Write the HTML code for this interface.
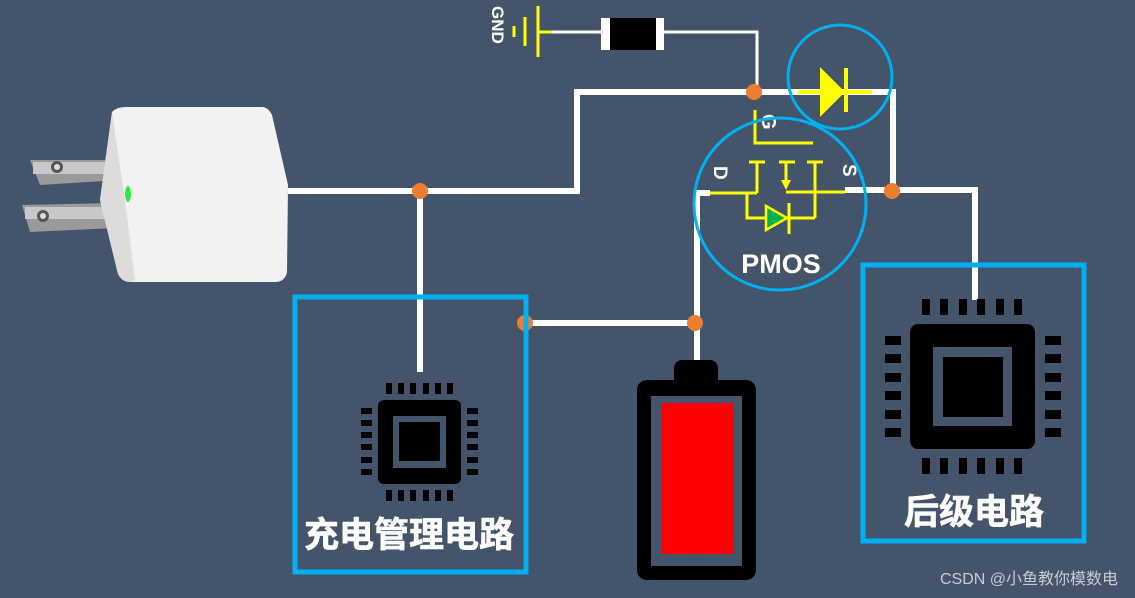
<!DOCTYPE html>
<html><head><meta charset="utf-8"><style>
html,body{margin:0;padding:0;background:#44546a;}
svg{display:block;}
text{font-family:"Liberation Sans","Noto Sans CJK SC",sans-serif;}
</style></head><body>
<svg width="1135" height="598" viewBox="0 0 1135 598" xmlns="http://www.w3.org/2000/svg">
<rect width="1135" height="598" fill="#44546a"/>
<g stroke="#fff" stroke-width="6" fill="none">
<polyline points="288,191 577,191 577,92 872,92"/>
<polyline points="872,92 893,92 893,190 975,190 975,300"/>
<line x1="845" y1="190" x2="893" y2="190"/>
<line x1="420" y1="191" x2="420" y2="372"/>
<polyline points="710,193 697,193 697,362"/>
<line x1="524" y1="323" x2="697" y2="323"/>
</g>
<polyline points="552,32 757,32 757,92" stroke="#fff" stroke-width="3" fill="none"/>
<rect x="601" y="18" width="63" height="32" fill="#fff"/>
<rect x="610" y="18" width="46" height="32" fill="#000"/>
<g stroke="#ffff00" stroke-width="3">
<line x1="538" y1="6" x2="538" y2="57"/>
<line x1="538" y1="32" x2="552" y2="32"/>
<line x1="525" y1="17" x2="525" y2="46"/>
<line x1="514" y1="26" x2="514" y2="37"/>
</g>
<text transform="translate(492,6) rotate(90)" font-size="17" font-weight="bold" fill="#fff">GND</text>
<g stroke="#ffff00" stroke-width="4">
<line x1="798" y1="92" x2="872" y2="92"/>
<line x1="846" y1="68" x2="846" y2="112"/>
</g>
<polygon points="820,67 845,92 820,117" fill="#ffff00"/>
<circle cx="840" cy="77" r="52" fill="none" stroke="#00b0f0" stroke-width="3"/>
<polyline points="755,110 755,143 813,143" stroke="#ffff00" stroke-width="3" fill="none"/>
<text transform="translate(762,114) rotate(90)" font-size="20" font-weight="bold" fill="#fff">G</text>
<g stroke="#ffff00" stroke-width="3" fill="none">
<line x1="710" y1="193" x2="757" y2="193"/>
<line x1="757" y1="162" x2="757" y2="193"/>
<line x1="749" y1="162" x2="765" y2="162"/>
<line x1="779" y1="162" x2="795" y2="162"/>
<line x1="807" y1="162" x2="823" y2="162"/>
<line x1="786" y1="162" x2="786" y2="182"/>
<line x1="815" y1="162" x2="815" y2="218"/>
<line x1="786" y1="192" x2="845" y2="192"/>
<polyline points="747,193 747,218 815,218"/>
<line x1="789" y1="203" x2="789" y2="234"/>
</g>
<polygon points="781,180 791,180 786,190" fill="#ffff00"/>
<polygon points="766,206 787,218 766,230" fill="#00b050" stroke="#ffff00" stroke-width="2.5"/>
<text transform="translate(714,166) rotate(90)" font-size="19" font-weight="bold" fill="#fff">D</text>
<text transform="translate(843,164) rotate(90)" font-size="19" font-weight="bold" fill="#fff">S</text>
<circle cx="780" cy="204" r="86" fill="none" stroke="#00b0f0" stroke-width="3"/>
<text x="781" y="273" text-anchor="middle" font-size="27" font-weight="bold" fill="#fff">PMOS</text>
<g fill="#ed7d31">
<circle cx="420" cy="191" r="8"/><circle cx="754" cy="92" r="8"/><circle cx="892" cy="191" r="8"/>
<circle cx="525" cy="323" r="8"/><circle cx="695" cy="323" r="8"/>
</g>
<rect x="295" y="297" width="231" height="275" fill="none" stroke="#00b0f0" stroke-width="5"/>
<rect x="863" y="265" width="221" height="276" fill="none" stroke="#00b0f0" stroke-width="5"/>
<rect x="378" y="400" width="83" height="84" rx="6" fill="#000"/>
<rect x="393" y="416" width="53" height="52" fill="#44546a"/>
<rect x="399" y="422" width="41" height="39" fill="#000"/>
<g fill="#000">
<rect x="386" y="383" width="6" height="11"/><rect x="398" y="383" width="6" height="11"/><rect x="410" y="383" width="6" height="11"/><rect x="423" y="383" width="6" height="11"/><rect x="435" y="383" width="6" height="11"/><rect x="447" y="383" width="6" height="11"/>
<rect x="386" y="490" width="6" height="11"/><rect x="398" y="490" width="6" height="11"/><rect x="410" y="490" width="6" height="11"/><rect x="423" y="490" width="6" height="11"/><rect x="435" y="490" width="6" height="11"/><rect x="447" y="490" width="6" height="11"/>
<rect x="361" y="408" width="11" height="6"/><rect x="361" y="420" width="11" height="6"/><rect x="361" y="432" width="11" height="6"/><rect x="361" y="444" width="11" height="6"/><rect x="361" y="457" width="11" height="6"/><rect x="361" y="469" width="11" height="6"/>
<rect x="467" y="408" width="11" height="6"/><rect x="467" y="420" width="11" height="6"/><rect x="467" y="432" width="11" height="6"/><rect x="467" y="444" width="11" height="6"/><rect x="467" y="457" width="11" height="6"/><rect x="467" y="469" width="11" height="6"/>
</g>
<text x="409" y="547" text-anchor="middle" font-size="35" font-weight="bold" fill="#fff" stroke="#fff" stroke-width="0.6">充电管理电路</text>
<rect x="910" y="324" width="125" height="125" rx="8" fill="#000"/>
<rect x="933" y="347" width="79" height="79" fill="#44546a"/>
<rect x="943" y="357" width="60" height="60" fill="#000"/>
<g fill="#000">
<rect x="922" y="299" width="8" height="16"/><rect x="940" y="299" width="8" height="16"/><rect x="959" y="299" width="8" height="16"/><rect x="977" y="299" width="8" height="16"/><rect x="996" y="299" width="8" height="16"/><rect x="1014" y="299" width="8" height="16"/>
<rect x="922" y="458" width="8" height="16"/><rect x="940" y="458" width="8" height="16"/><rect x="959" y="458" width="8" height="16"/><rect x="977" y="458" width="8" height="16"/><rect x="996" y="458" width="8" height="16"/><rect x="1014" y="458" width="8" height="16"/>
<rect x="885" y="336" width="16" height="9"/><rect x="885" y="354" width="16" height="9"/><rect x="885" y="373" width="16" height="9"/><rect x="885" y="391" width="16" height="9"/><rect x="885" y="410" width="16" height="9"/><rect x="885" y="428" width="16" height="9"/>
<rect x="1045" y="336" width="16" height="9"/><rect x="1045" y="354" width="16" height="9"/><rect x="1045" y="373" width="16" height="9"/><rect x="1045" y="391" width="16" height="9"/><rect x="1045" y="410" width="16" height="9"/><rect x="1045" y="428" width="16" height="9"/>
</g>
<text x="974" y="524" text-anchor="middle" font-size="35" font-weight="bold" fill="#fff" stroke="#fff" stroke-width="0.6">后级电路</text>
<rect x="674" y="360" width="44" height="28" rx="8" fill="#000"/>
<rect x="637" y="380" width="119" height="200" rx="10" fill="#000"/>
<rect x="651" y="396" width="91" height="170" fill="#44546a"/>
<rect x="661" y="403" width="73" height="151" fill="#ff0000"/>
<g>
<path d="M30,160 L120,160 L120,180 L40,185 Z" fill="#9a9a9a"/>
<path d="M22,205 L115,203 L115,228 L30,232 Z" fill="#9a9a9a"/>
<rect x="33" y="162" width="85" height="12" fill="#c8c8c8"/>
<rect x="25" y="207" width="85" height="12" fill="#c8c8c8"/>
<circle cx="57" cy="167" r="6" fill="#555"/><circle cx="57" cy="167" r="3" fill="#ddd"/>
<circle cx="43" cy="216" r="6" fill="#555"/><circle cx="43" cy="216" r="3" fill="#ddd"/>
<path d="M112,112 Q117,107 125,107 L262,107 Q268,107 272,115 L288,185 L287,272 Q285,282 275,282 L130,282 Q122,282 118,274 L100,200 Z" fill="#f2f2f2"/>
<path d="M112,112 L100,200 L118,274 Q122,282 130,282 L135,280 L125,200 Z" fill="#dcdcdc"/>
<ellipse cx="128" cy="194" rx="3" ry="8" fill="#2ee84a"/>
</g>
<text x="1118" y="584" text-anchor="end" font-size="16" fill="#c8ccd2">CSDN @小鱼教你模数电</text>
</svg>
</body></html>
